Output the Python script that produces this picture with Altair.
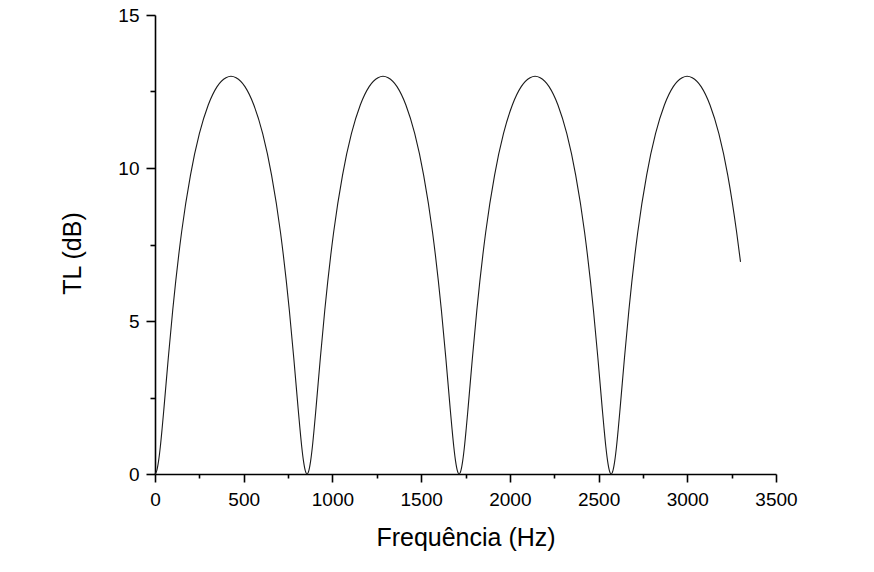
import altair as alt
import pandas as pd

# Frequency (Hz)
freq = [
    0, 10, 20, 30, 40, 50, 75, 100, 150, 200, 250, 300, 350, 400, 428,
    457, 507, 557, 607, 657, 707, 757, 782, 807, 817, 827, 837, 847, 857,
    867, 877, 887, 897, 907, 932, 957, 1007, 1057, 1107, 1157, 1207, 1257, 1285,
    1314, 1364, 1414, 1464, 1514, 1564, 1614, 1639, 1664, 1674, 1684, 1694, 1704, 1714,
    1724, 1734, 1744, 1754, 1764, 1789, 1814, 1864, 1914, 1964, 2014, 2064, 2114, 2142,
    2171, 2221, 2271, 2321, 2371, 2421, 2471, 2496, 2521, 2531, 2541, 2551, 2561, 2571,
    2581, 2591, 2601, 2611, 2621, 2646, 2671, 2721, 2771, 2821, 2871, 2921, 2971, 2999,
    3028, 3078, 3128, 3178, 3228, 3278, 3300,
]

# Transmission loss (dB)
tl = [
    0.0, 0.11, 0.42, 0.89, 1.48, 2.12, 3.80, 5.36, 7.91, 9.77, 11.12, 12.06, 12.66, 12.95, 13.0,
    12.95, 12.66, 12.06, 11.12, 9.77, 7.91, 5.36, 3.80, 2.12, 1.48, 0.89, 0.42, 0.11, 0.0,
    0.11, 0.42, 0.89, 1.48, 2.12, 3.80, 5.36, 7.91, 9.77, 11.12, 12.06, 12.66, 12.95, 13.0,
    12.95, 12.66, 12.06, 11.12, 9.77, 7.91, 5.36, 3.80, 2.12, 1.48, 0.89, 0.42, 0.11, 0.0,
    0.11, 0.42, 0.89, 1.48, 2.12, 3.80, 5.36, 7.91, 9.77, 11.12, 12.06, 12.66, 12.95, 13.0,
    12.95, 12.66, 12.06, 11.12, 9.77, 7.91, 5.36, 3.80, 2.12, 1.48, 0.89, 0.42, 0.11, 0.0,
    0.11, 0.42, 0.89, 1.48, 2.12, 3.80, 5.36, 7.91, 9.77, 11.12, 12.06, 12.66, 12.95, 13.0,
    12.95, 12.66, 12.06, 11.12, 9.77, 7.91, 6.93,
]

x_ticks = [0, 250, 500, 750, 1000, 1250, 1500, 1750, 2000, 2250, 2500, 2750, 3000, 3250, 3500]
y_ticks = [0, 2.5, 5, 7.5, 10, 12.5, 15]

df = pd.DataFrame({"f": freq, "tl": tl})

FONT = "Liberation Sans"

x_axis = alt.Axis(
    values=x_ticks,
    format="d",
    labelExpr="datum.value % 500 == 0 ? datum.label : ''",
    tickSize={"condition": {"test": "datum.value % 500 != 0", "value": 4}, "value": 8},
    title="Frequência (Hz)",
    grid=False,
    domainColor="black",
    domainWidth=1.6,
    tickColor="black",
    tickWidth=1.6,
    labelFont=FONT,
    labelFontSize=19,
    labelColor="black",
    labelPadding=8,
    labelFlush=False,
    labelOverlap=False,
    titleFont=FONT,
    titleFontSize=25,
    titleFontWeight="normal",
    titleColor="black",
    titleBaseline="alphabetic",
    titleY=71,
)

y_axis = alt.Axis(
    values=y_ticks,
    labelExpr="datum.value % 5 == 0 ? datum.label : ''",
    tickSize={"condition": {"test": "datum.value % 5 != 0", "value": 5}, "value": 9},
    title="TL (dB)",
    grid=False,
    domainColor="black",
    domainWidth=1.6,
    tickColor="black",
    tickWidth=1.6,
    labelFont=FONT,
    labelFontSize=19,
    labelColor="black",
    labelPadding=7,
    labelFlush=False,
    labelOverlap=False,
    titleFont=FONT,
    titleFontSize=25,
    titleFontWeight="normal",
    titleColor="black",
    titleBaseline="alphabetic",
    titleAngle=270,
    titleX=-75,
    titleY=238,
)

chart = (
    alt.Chart(df)
    .mark_line(color="#1a1a1a", strokeWidth=1.1, interpolate="monotone")
    .encode(
        x=alt.X("f:Q", scale=alt.Scale(domain=[0, 3500], nice=False, zero=False), axis=x_axis),
        y=alt.Y("tl:Q", scale=alt.Scale(domain=[0, 15], nice=False, zero=False), axis=y_axis),
    )
    .properties(
        width=621,
        height=459,
        autosize=alt.AutoSizeParams(type="none"),
        padding={"left": 155, "top": 15, "right": 98, "bottom": 98},
        background="white",
    )
    .configure_view(stroke=None)
)

chart.save("out.html", embed_options={"renderer": "svg", "actions": False})
